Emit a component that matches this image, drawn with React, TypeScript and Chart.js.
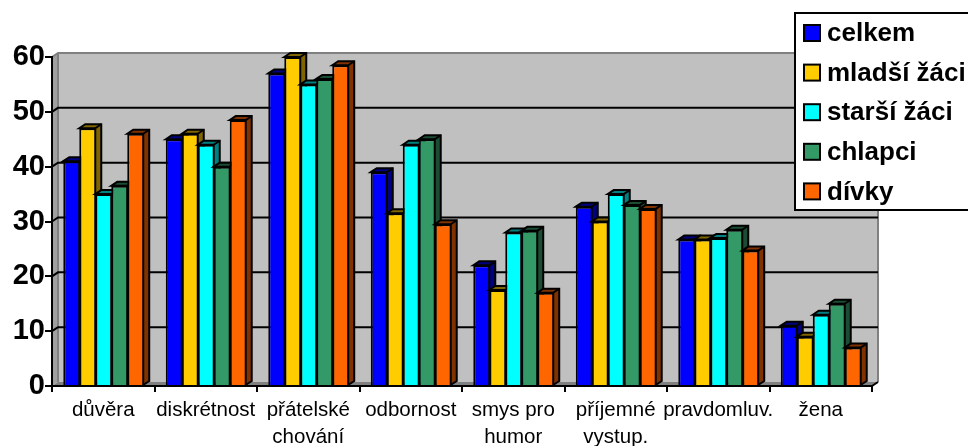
import React, { useEffect, useRef } from "react";
import { Chart, registerables } from "chart.js";

Chart.register(...registerables);

const categories: (string | string[])[] = [
  "důvěra",
  "diskrétnost",
  ["přátelské", "chování"],
  "odbornost",
  ["smys pro", "humor"],
  ["příjemné", "vystup."],
  "pravdomluv.",
  "žena",
];
const celkem = [41, 45, 57, 39, 22, 32.7, 26.7, 11];
const mladsiZaci = [47, 46, 60, 31.5, 17.5, 30, 26.7, 9];
const starsiZaci = [35, 44, 55, 44, 28, 35, 27, 13];
const chlapci = [36.5, 40, 56, 45, 28.3, 33, 28.5, 15];
const divky = [46, 48.5, 58.5, 29.5, 17, 32.3, 24.7, 7];
const tickValues = [0, 10, 20, 30, 40, 50, 60];

const seriesNames = ["celkem", "mladší žáci", "starší žáci", "chlapci", "dívky"];
const seriesValues = [celkem, mladsiZaci, starsiZaci, chlapci, divky];
const frontColors = ["#0000FF", "#FFCC00", "#00FFFF", "#339966", "#FF6600"];
const depthColors = ["#000080", "#806600", "#008080", "#1A4D33", "#803300"];

const DX = 6;
const DY = 4;
const FONT = '"Liberation Sans", Arial, sans-serif';

function drawDepth(chart: any, index: number) {
  const { ctx } = chart;
  const meta = chart.getDatasetMeta(index);
  ctx.save();
  ctx.lineWidth = 2;
  ctx.strokeStyle = "#000000";
  ctx.lineJoin = "miter";
  ctx.fillStyle = depthColors[index];
  for (const bar of meta.data) {
    const p = bar.getProps(["x", "y", "base", "width"], true);
    const l = p.x - p.width / 2;
    const r = p.x + p.width / 2;
    ctx.beginPath();
    ctx.moveTo(l, p.y);
    ctx.lineTo(l + DX, p.y - DY);
    ctx.lineTo(r + DX, p.y - DY);
    ctx.lineTo(r + DX, p.base - DY);
    ctx.lineTo(r, p.base);
    ctx.lineTo(r, p.y);
    ctx.closePath();
    ctx.fill();
    ctx.stroke();
    ctx.beginPath();
    ctx.moveTo(r, p.y);
    ctx.lineTo(r + DX, p.y - DY);
    ctx.stroke();
  }
  ctx.restore();
}

const walls = {
  id: "walls",
  beforeDatasetsDraw(chart: any) {
    const { ctx, chartArea: a, scales } = chart;
    const y = scales.y;
    ctx.save();
    // left wall
    ctx.fillStyle = "#A0A0A0";
    ctx.beginPath();
    ctx.moveTo(a.left, a.top);
    ctx.lineTo(a.left + DX, a.top - DY);
    ctx.lineTo(a.left + DX, a.bottom - DY);
    ctx.lineTo(a.left, a.bottom);
    ctx.closePath();
    ctx.fill();
    // back wall
    ctx.fillStyle = "#C0C0C0";
    ctx.fillRect(a.left + DX, a.top - DY, a.width, a.height);
    // floor
    ctx.fillStyle = "#808080";
    ctx.beginPath();
    ctx.moveTo(a.left, a.bottom);
    ctx.lineTo(a.left + DX, a.bottom - DY);
    ctx.lineTo(a.right + DX, a.bottom - DY);
    ctx.lineTo(a.right, a.bottom);
    ctx.closePath();
    ctx.fill();
    // wall edges
    ctx.strokeStyle = "#808080";
    ctx.lineWidth = 2;
    ctx.beginPath();
    ctx.moveTo(a.left, a.top);
    ctx.lineTo(a.left + DX, a.top - DY);
    ctx.lineTo(a.right + DX, a.top - DY);
    ctx.lineTo(a.right + DX, a.bottom - DY);
    ctx.moveTo(a.left + DX, a.top - DY);
    ctx.lineTo(a.left + DX, a.bottom - DY);
    ctx.stroke();
    // gridlines
    ctx.strokeStyle = "#000000";
    ctx.beginPath();
    for (const v of tickValues) {
      if (v === 0 || v === 60) continue;
      const py = y.getPixelForValue(v);
      ctx.moveTo(a.left, py);
      ctx.lineTo(a.left + DX, py - DY);
      ctx.lineTo(a.right + DX, py - DY);
    }
    ctx.moveTo(a.right, a.bottom);
    ctx.lineTo(a.right + DX, a.bottom - DY);
    ctx.stroke();
    ctx.restore();
    // Excel paints 3-D columns left to right, so each later series covers
    // the depth faces of the one before it.
    chart.data.datasets.forEach((_: any, i: number) => {
      chart.getDatasetMeta(i).controller.draw();
      drawDepth(chart, i);
    });
    return false;
  },
  afterDraw(chart: any) {
    const { ctx } = chart;
    ctx.save();
    ctx.fillStyle = "#FFFFFF";
    ctx.strokeStyle = "#000000";
    ctx.lineWidth = 2;
    ctx.fillRect(795, 13, 180, 197);
    ctx.strokeRect(795, 13, 180, 197);
    ctx.font = `bold 26px ${FONT}`;
    ctx.textBaseline = "middle";
    ctx.textAlign = "left";
    chart.data.datasets.forEach((ds: any, i: number) => {
      const cy = 33 + i * 39.6;
      ctx.fillStyle = ds.backgroundColor;
      ctx.fillRect(804, cy - 8, 16, 16);
      ctx.strokeRect(804, cy - 8, 16, 16);
      ctx.fillStyle = "#000000";
      ctx.fillText(ds.label, 827, cy + 1);
    });
    ctx.restore();
  },
};

export default function App() {
  const ref = useRef<HTMLCanvasElement>(null);
  useEffect(() => {
    const chart = new Chart(ref.current!, {
      type: "bar",
      plugins: [walls],
      data: {
        labels: categories as any,
        datasets: seriesNames.map((label, i) => ({
          label,
          data: seriesValues[i],
          backgroundColor: frontColors[i],
          borderColor: "#000000",
          borderWidth: { left: 2, top: 2, right: 0, bottom: 0 },
          borderSkipped: false,
          categoryPercentage: 0.78,
          barPercentage: 1,
          clip: false,
        })) as any,
      },
      options: {
        animation: false,
        responsive: false,
        layout: { padding: { left: 0, top: 57, right: 96, bottom: 0 } },
        plugins: { legend: { display: false }, title: { display: false }, tooltip: { enabled: false } },
        scales: {
          x: {
            afterFit: (s: any) => { s.height = 60; },
            grid: { drawOnChartArea: false, color: "#000000", lineWidth: 2, tickLength: 6, z: 1, offset: true },
            border: { color: "#000000", width: 2, z: 1 },
            ticks: {
              color: "#000000",
              font: { family: FONT, size: 20.5, lineHeight: 1.32 },
              maxRotation: 0,
              minRotation: 0,
              autoSkip: false,
              padding: 5,
            },
          },
          y: {
            min: 0,
            max: 60,
            afterFit: (s: any) => { s.width = 52; },
            afterBuildTicks: (s: any) => { s.ticks = tickValues.map((value) => ({ value })); },
            grid: { drawOnChartArea: false, color: "#000000", lineWidth: 2, tickLength: 7, z: 1 },
            border: { color: "#000000", width: 2, z: 1 },
            ticks: {
              color: "#000000",
              font: { family: FONT, size: 29, weight: "bold" },
              padding: 0,
            },
          },
        },
      },
    } as any);
    return () => chart.destroy();
  }, []);
  return (
    <div style={{ position: "absolute", left: 0, top: 0, width: 968, height: 446, overflow: "hidden", background: "#fff" }}>
      <canvas ref={ref} width={968} height={446} style={{ display: "block" }} />
    </div>
  );
}
